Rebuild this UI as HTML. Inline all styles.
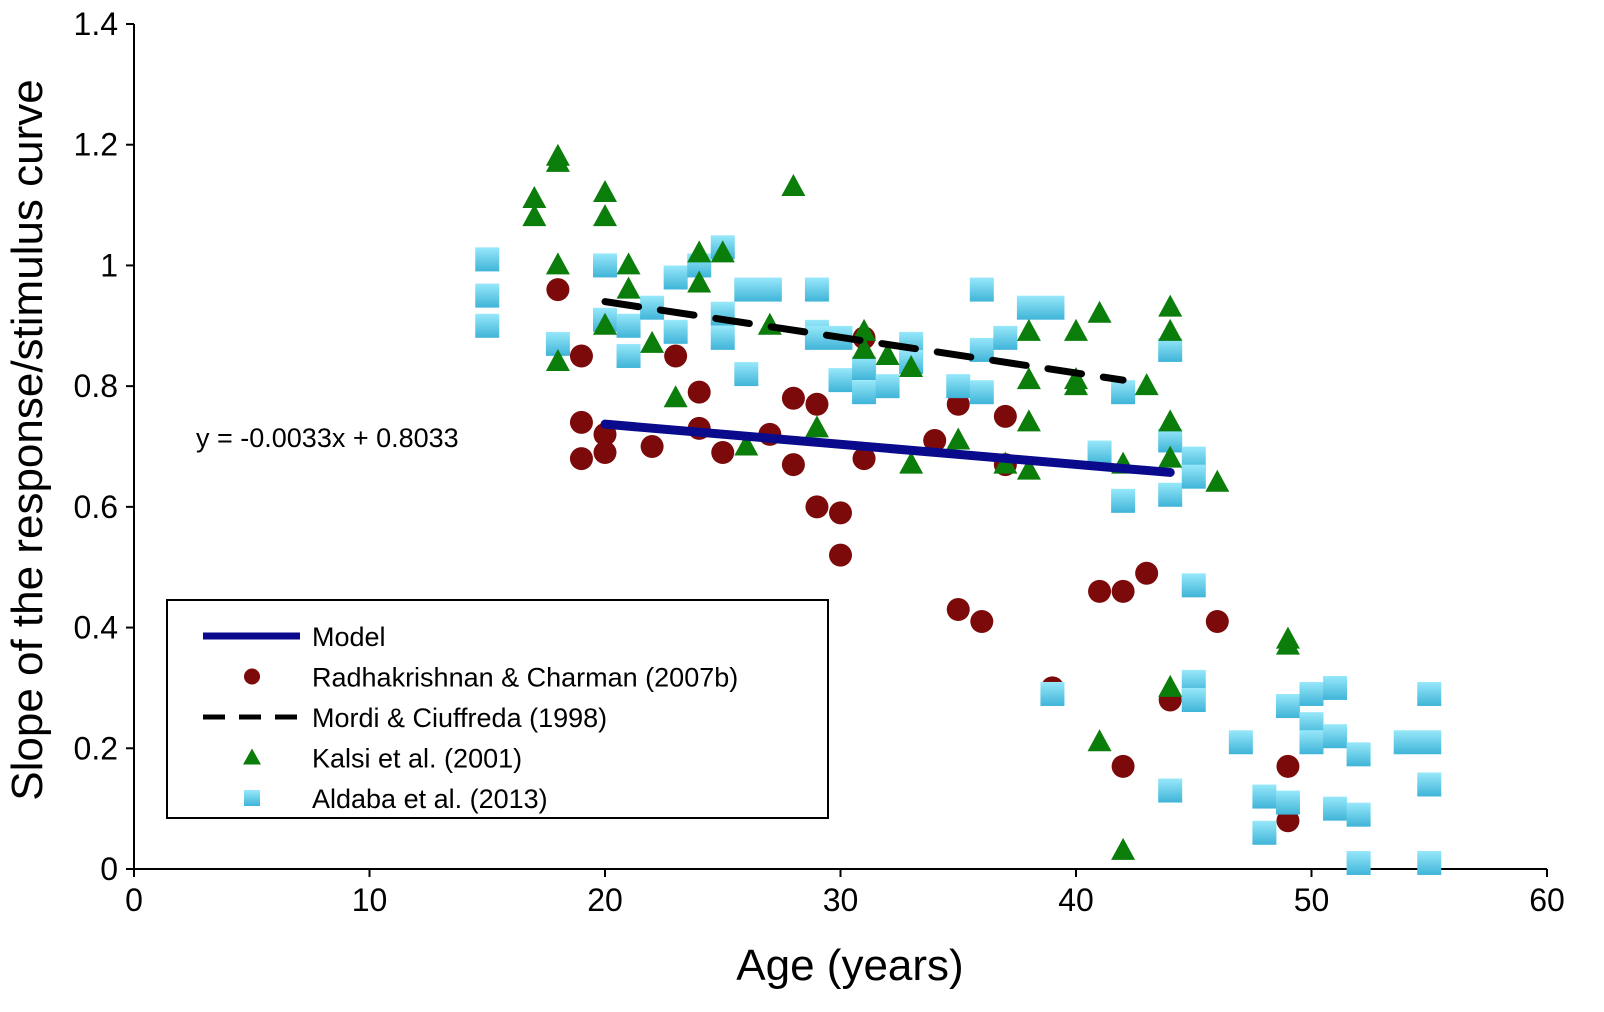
<!DOCTYPE html>
<html><head><meta charset="utf-8"><style>
body{margin:0;background:#fff}
svg{display:block;font-family:"Liberation Sans",Arial,sans-serif}
</style></head><body>
<svg id="c" width="1604" height="1012">
<defs><linearGradient id="sq" x1="0" y1="0" x2="0" y2="1"><stop offset="0" stop-color="#98e8fa"/><stop offset="1" stop-color="#3fb4d8"/></linearGradient></defs>
<g id="axes"></g><g id="marks"></g><g id="legend"></g>
</svg>
<script>
const xTicks=[0,10,20,30,40,50,60];
const yTicks=[0,0.2,0.4,0.6,0.8,1,1.2,1.4];
const yTickLabels=["0","0.2","0.4","0.6","0.8","1","1.2","1.4"];
const radAge=[18,19,19,19,20,20,22,23,24,24,25,27,28,28,29,29,30,30,31,31,34,35,35,36,37,37,39,41,42,43,42,44,46,49,49];
const radVal=[0.96,0.85,0.74,0.68,0.72,0.69,0.70,0.85,0.79,0.73,0.69,0.72,0.78,0.67,0.77,0.60,0.59,0.52,0.88,0.68,0.71,0.77,0.43,0.41,0.75,0.67,0.30,0.46,0.46,0.49,0.17,0.28,0.41,0.17,0.08];
const kalAge=[17,17,18,18,18,18,20,20,20,21,21,22,23,24,24,25,26,27,28,29,31,31,32,33,33,35,37,38,38,38,38,40,40,40,41,42,43,44,44,44,44,46,44,41,42,49,49];
const kalVal=[1.11,1.08,1.18,1.17,1.0,0.84,1.12,1.08,0.90,1.0,0.96,0.87,0.78,1.02,0.97,1.02,0.70,0.90,1.13,0.73,0.89,0.86,0.85,0.83,0.67,0.71,0.67,0.89,0.81,0.74,0.66,0.89,0.81,0.80,0.92,0.67,0.80,0.93,0.89,0.74,0.68,0.64,0.30,0.21,0.03,0.38,0.37];
const aldAge=[15,15,15,18,20,20,21,21,22,23,23,24,25,25,25,26,26,27,29,29,29,30,30,31,31,32,33,33,35,36,36,36,37,38,39,42,44,44,44,41,42,45,45,45,45,45,39,44,47,48,48,49,49,50,50,50,51,51,51,52,52,52,54,55,55,55,55];
const aldVal=[1.01,0.95,0.90,0.87,1.0,0.91,0.90,0.85,0.93,0.98,0.89,1.0,1.03,0.92,0.88,0.96,0.82,0.96,0.96,0.89,0.88,0.88,0.81,0.83,0.79,0.80,0.87,0.84,0.80,0.96,0.86,0.79,0.88,0.93,0.93,0.79,0.86,0.71,0.62,0.69,0.61,0.68,0.65,0.47,0.31,0.28,0.29,0.13,0.21,0.12,0.06,0.27,0.11,0.29,0.24,0.21,0.30,0.22,0.10,0.19,0.09,0.01,0.21,0.21,0.29,0.14,0.01];
const modelX=[20,44], modelY=[0.737,0.657];
const mordiX=[20,42], mordiY=[0.94,0.81];
const X0=134,X1=1547,Y0=869,Y1=24;
const sx=v=>X0+(v-0)/60*(X1-X0);
const sy=v=>Y0-(v/1.4)*(Y0-Y1);
const NS="http://www.w3.org/2000/svg";
function mk(t,a,p){const e=document.createElementNS(NS,t);for(const k in a)e.setAttribute(k,a[k]);p.appendChild(e);return e;}
const ax=document.getElementById('axes'),mg=document.getElementById('marks'),lg=document.getElementById('legend');
let e=mk('line',{x1:X0,y1:Y0,x2:X1,y2:Y0,stroke:'#000','stroke-width':2},ax);

e=mk('line',{x1:X0,y1:Y1,x2:X0,y2:Y0,stroke:'#000','stroke-width':2},ax);

xTicks.forEach(t=>{mk('line',{x1:sx(t),y1:Y0,x2:sx(t),y2:Y0+8,stroke:'#000','stroke-width':2},ax);
 const l=mk('text',{x:sx(t),y:Y0+42,'font-size':32,'text-anchor':'middle'},ax);l.textContent=t;
 });
yTicks.forEach((t,i)=>{mk('line',{x1:X0-8,y1:sy(t),x2:X0,y2:sy(t),stroke:'#000','stroke-width':2},ax);
 const l=mk('text',{x:X0-16,y:sy(t)+11,'font-size':32,'text-anchor':'end'},ax);l.textContent=yTickLabels[i];
 });
e=mk('text',{x:850,y:980,'font-size':44,'text-anchor':'middle'},ax);e.textContent='Age (years)';

e=mk('text',{x:0,y:0,'font-size':44,'text-anchor':'middle',transform:'translate(42,440) rotate(-90)'},ax);e.textContent='Slope of the response/stimulus curve';

e=mk('text',{x:196,y:447,'font-size':27},ax);e.textContent='y = -0.0033x + 0.8033';

function sq(x,y,p){const r=mk('rect',{x:x-12,y:y-12,width:24,height:24,fill:'url(#sq)'},p);return r;}
function tri(x,y,p){return mk('polygon',{points:`${x},${y-13} ${x+12},${y+9} ${x-12},${y+9}`,fill:'#0a7d0a'},p);}
function cir(x,y,p){return mk('circle',{cx:x,cy:y,r:11.5,fill:'#7d0a0a'},p);}
radAge.forEach((a,i)=>{const m=cir(sx(a),sy(radVal[i]),mg);
 });
aldAge.forEach((a,i)=>{const m=sq(sx(a),sy(aldVal[i]),mg);
 });
kalAge.forEach((a,i)=>{const m=tri(sx(a),sy(kalVal[i]),mg);
 });
e=mk('line',{x1:sx(mordiX[0]),y1:sy(mordiY[0]),x2:sx(mordiX[1]),y2:sy(mordiY[1]),stroke:'#000','stroke-width':7,'stroke-dasharray':'34 22','stroke-linecap':'round'},mg);

e=mk('line',{x1:sx(modelX[0]),y1:sy(modelY[0]),x2:sx(modelX[1]),y2:sy(modelY[1]),stroke:'#0a0a8c','stroke-width':9,'stroke-linecap':'round'},mg);

e=mk('rect',{x:167,y:600,width:661,height:218,fill:'#fff',stroke:'#000','stroke-width':2},lg);

const labels=['Model','Radhakrishnan & Charman (2007b)','Mordi & Ciuffreda (1998)','Kalsi et al. (2001)','Aldaba et al. (2013)'];
labels.forEach((t,i)=>{const y=636+i*40.5;
 if(i==0)mk('line',{x1:203,y1:y,x2:300,y2:y,stroke:'#0a0a8c','stroke-width':7},lg);
 if(i==1)mk('circle',{cx:252,cy:y,r:8,fill:'#7d0a0a'},lg);
 if(i==2)mk('line',{x1:203,y1:y,x2:300,y2:y,stroke:'#000','stroke-width':5,'stroke-dasharray':'22 14'},lg);
 if(i==3)mk('polygon',{points:`252,${y-9} 261,${y+7} 243,${y+7}`,fill:'#0a7d0a'},lg);
 if(i==4)mk('rect',{x:244,y:y-8,width:16,height:16,fill:'url(#sq)'},lg);
 const l=mk('text',{x:312,y:y+10,'font-size':27},lg);l.textContent=t;
 });
</script>
</body></html>
